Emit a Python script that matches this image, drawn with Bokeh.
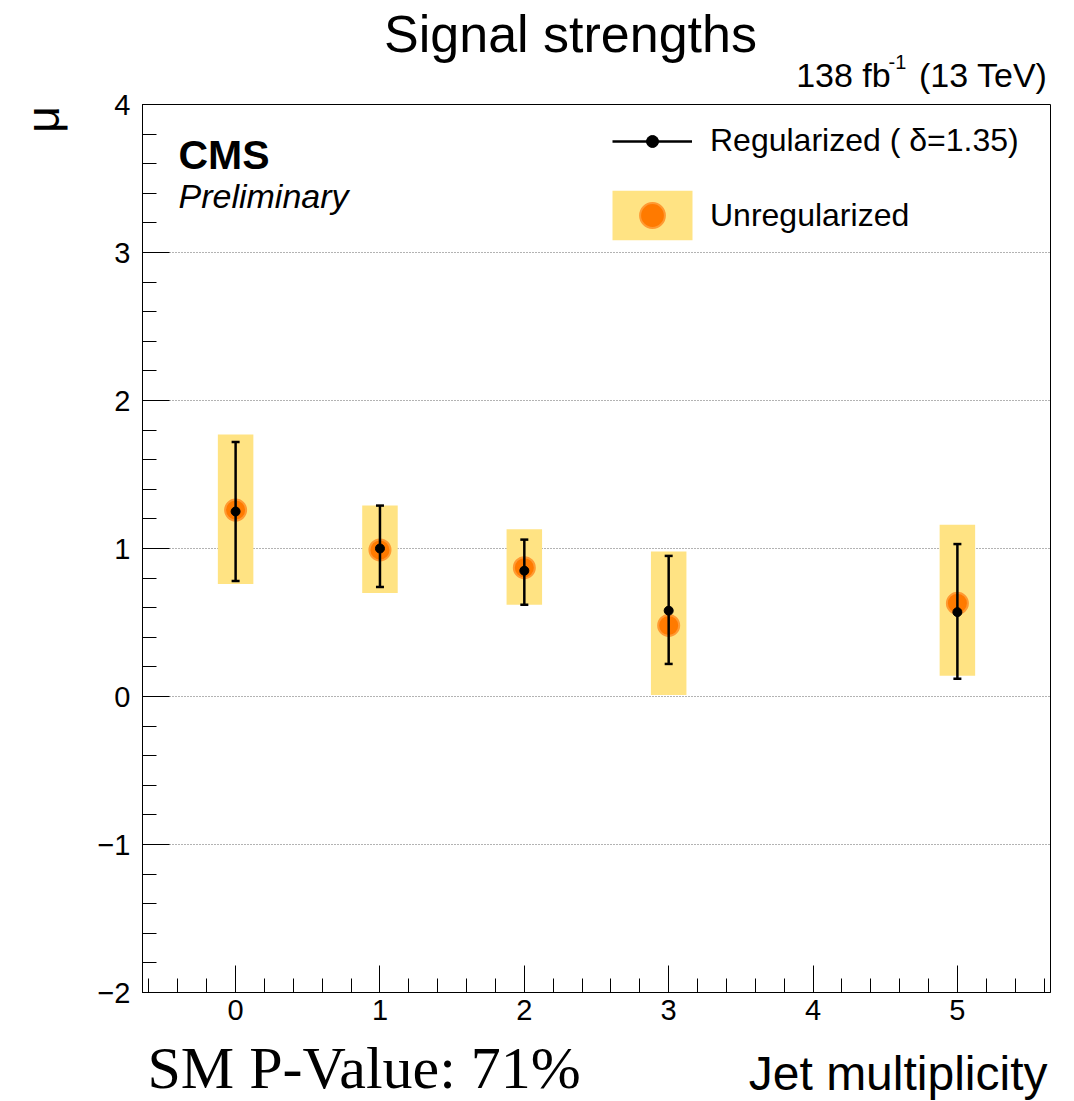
import math
from bokeh.plotting import figure
from bokeh.layouts import column
from bokeh.models import (Range1d, SingleIntervalTicker, CustomJSTickFormatter,
                          Label, Legend, LegendItem, ColumnDataSource)
from bokeh.embed import file_html
from bokeh.resources import INLINE

# ---------------- data ----------------
jets = [0, 1, 2, 3, 5]
unreg_mu = [1.26, 0.99, 0.87, 0.48, 0.63]
unreg_lo = [0.76, 0.70, 0.62, 0.01, 0.14]
unreg_hi = [1.77, 1.29, 1.13, 0.98, 1.16]
reg_mu = [1.25, 1.00, 0.85, 0.58, 0.57]
reg_lo = [0.78, 0.74, 0.62, 0.22, 0.12]
reg_hi = [1.72, 1.29, 1.06, 0.95, 1.03]
x_ticks_interval = 1
y_ticks_interval = 1

HALF_W = 0.123
FONT = "Liberation Sans"
MAIN_H = 1033

src = ColumnDataSource(dict(
    x=jets,
    left=[j - HALF_W for j in jets],
    right=[j + HALF_W for j in jets],
    umu=unreg_mu, ulo=unreg_lo, uhi=unreg_hi,
    rmu=reg_mu, rlo=reg_lo, rhi=reg_hi,
))

p = figure(width=1074, height=MAIN_H, output_backend="svg", toolbar_location=None,
           x_range=Range1d(-0.645, 5.645), y_range=Range1d(-2, 4), title=None,
           min_border_left=142, min_border_right=24,
           min_border_top=104, min_border_bottom=MAIN_H - 992)
p.background_fill_color = "white"
p.border_fill_color = "white"
p.outline_line_color = "black"
p.outline_line_width = 1

# axes
for ax, interval in ((p.xaxis[0], x_ticks_interval), (p.yaxis[0], y_ticks_interval)):
    ax.ticker = SingleIntervalTicker(interval=interval, num_minor_ticks=5)
    ax.major_tick_in = 27
    ax.major_tick_out = 0
    ax.minor_tick_in = 14
    ax.minor_tick_out = 0
    ax.axis_line_color = "black"
    ax.major_tick_line_color = "black"
    ax.minor_tick_line_color = "black"
    ax.major_label_text_font = FONT
    ax.major_label_text_font_size = "29px"
    ax.major_label_text_color = "black"
    ax.major_label_standoff = 7
p.yaxis[0].major_label_standoff = 12
p.yaxis[0].formatter = CustomJSTickFormatter(
    code="return tick < 0 ? '\u2212' + (-tick) : String(tick);")

p.xgrid.visible = False
p.ygrid.grid_line_color = "#666666"
p.ygrid.grid_line_dash = "1 2"
p.ygrid.grid_line_width = 1

# unregularized bands and points
band = p.quad(left="left", right="right", bottom="ulo", top="uhi", source=src,
              fill_color="#ffe383", line_color=None)
udot = p.scatter("x", "umu", source=src, size=21, fill_color="#ff7a00",
                 line_color="#ff9a33", line_width=2)

# regularized error bars
seg = p.segment(x0="x", y0="rlo", x1="x", y1="rhi", source=src,
                line_color="black", line_width=2.5)
p.scatter("x", "rlo", source=src, marker="dash", size=8, line_color="black", line_width=2.5)
p.scatter("x", "rhi", source=src, marker="dash", size=8, line_color="black", line_width=2.5)
rdot = p.scatter("x", "rmu", source=src, size=9, fill_color="black", line_color="black")

# legends (two, to control glyph geometry separately)
common = dict(padding=0, margin=0, border_line_color=None, background_fill_alpha=0,
              label_text_font=FONT, label_text_font_size="32px", label_text_color="black")
leg1 = Legend(items=[LegendItem(label="Regularized ( \u03b4=1.35)", renderers=[seg, rdot])],
              location=(470, 833), glyph_width=80, glyph_height=30, label_height=30,
              label_standoff=18, **common)
leg2 = Legend(items=[LegendItem(label="Unregularized", renderers=[band, udot])],
              location=(460, 746), glyph_width=100, glyph_height=62, label_height=62,
              label_standoff=8, **common)
p.add_layout(leg1)
p.add_layout(leg2)


def mk(text, x, y, size, align="left", baseline="middle", font=FONT, style="normal",
       angle=0, units="screen"):
    return Label(text=text, x=x, y=y, x_units=units, y_units=units,
                 text_font=font, text_font_size=size, text_align=align,
                 text_baseline=baseline, text_font_style=style, angle=angle,
                 text_color="black")


# in-frame texts (frame origin: canvas x=142, canvas y=992)
p.add_layout(mk("CMS", 36, 838, "41px", style="bold"))
p.add_layout(mk("Preliminary", 36, 797, "34px", style="italic"))

# texts outside the frame, placed in side panels with canvas coordinates
p.add_layout(mk("138 fb\u00a0\u00a0\u00a0(13 TeV)", 1047, 74, "34px", align="right",
                units="canvas"), "above")
p.add_layout(mk("Signal strengths", 570, 33, "52px", align="center", units="canvas"), "above")
p.add_layout(mk("\u03bc", 42, 119, "47px", align="center", angle=math.pi / 2,
                units="canvas"), "left")
p.add_layout(mk("-1", 888, 61, "20px", align="left", units="canvas"), "left")

# bottom strip for the texts below the axis (its canvas starts at page y=MAIN_H)
b = figure(width=1074, height=1101 - MAIN_H, output_backend="svg", toolbar_location=None,
           x_range=Range1d(0, 1), y_range=Range1d(0, 1), title=None,
           x_axis_type=None, y_axis_type=None,
           min_border_left=142, min_border_right=24, min_border_top=0, min_border_bottom=0)
b.outline_line_color = None
b.grid.visible = False
b.background_fill_color = "white"
b.border_fill_color = "white"
b.add_layout(mk("SM P-Value: 71%", 147, 1067 - MAIN_H, "60px",
                font="Liberation Serif", units="canvas"))
b.add_layout(mk("Jet multiplicity", 1047, 1073 - MAIN_H, "48px", align="right",
                units="canvas"))

layout = column(p, b, spacing=0)
open("out.html", "w").write(file_html(layout, INLINE))
